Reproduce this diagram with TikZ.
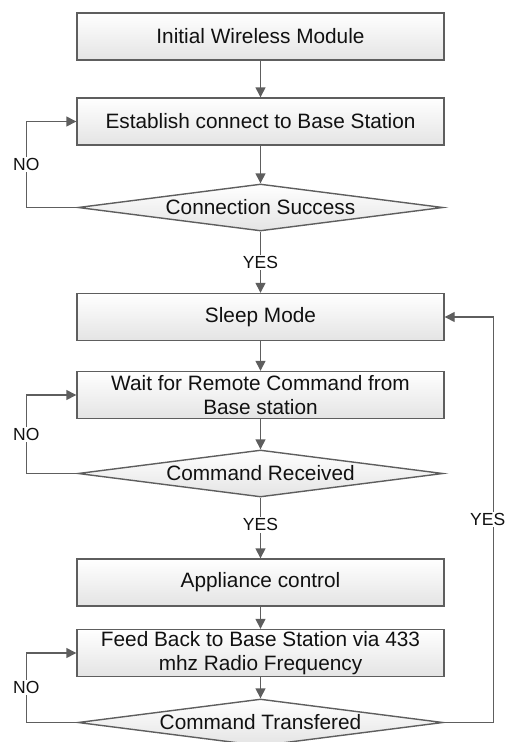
\documentclass[tikz,border=0pt]{standalone}
\usepackage{fontspec}
\setmainfont{Liberation Sans}
\usetikzlibrary{shapes.geometric,arrows.meta}
\definecolor{linec}{HTML}{5E5E5E}
\definecolor{boxbot}{HTML}{E4E4E4}
\definecolor{txt}{HTML}{111111}
\tikzset{
  box/.style={draw=linec, line width=1.4pt, top color=white, bottom color=boxbot,
    minimum width=367pt, minimum height=47pt, inner sep=0pt, align=center,
    text=txt, font=\fontsize{20.8}{24}\selectfont},
  dec/.style={diamond, draw=linec, line width=1.4pt, top color=white, bottom color=boxbot,
    minimum width=365pt, minimum height=47pt, aspect=7.77, inner sep=0pt,
    text=txt, font=\fontsize{20.8}{24}\selectfont},
  arr/.style={draw=linec, line width=1.4pt, -{Triangle[length=10pt,width=10pt]}},
  lab/.style={fill=white, inner sep=1.5pt, text=txt, font=\fontsize{17.5}{20}\selectfont}
}
\begin{document}
\begin{tikzpicture}[x=1pt,y=-1pt]
\useasboundingbox (0,0) rectangle (513,742);
\node[box] (b1) at (260.5,36.5) {Initial Wireless Module};
\node[box] (b2) at (260.5,121.5) {Establish connect to Base Station};
\node[dec] (d1) at (260.5,207.5) {Connection Success};
\node[box] (b3) at (260.5,317) {Sleep Mode};
\node[box] (b4) at (260.5,395) {Wait for Remote Command from\\Base station};
\node[dec] (d2) at (260.5,473.5) {Command Received};
\node[box] (b5) at (260.5,582.5) {Appliance control};
\node[box] (b6) at (260.5,653) {Feed Back to Base Station via 433\\mhz Radio Frequency};
\node[dec] (d3) at (260.5,722.5) {Command Transfered};

\draw[arr] (b1) -- (b2);
\draw[arr] (b2) -- (d1);
\draw[arr] (d1) -- node[lab]{YES} (b3);
\draw[arr] (d1.west) -- ++(-51,0) |- node[lab,pos=0.25]{NO} (b2.west);
\draw[arr] (b3) -- (b4);
\draw[arr] (b4) -- (d2);
\draw[arr] (d2) -- node[lab,pos=0.45]{YES} (b5);
\draw[arr] (d2.west) -- ++(-51,0) |- node[lab,pos=0.25]{NO} (b4.west);
\draw[arr] (b5) -- (b6);
\draw[arr] (b6) -- (d3);
\draw[arr] (d3.west) -- ++(-51,0) |- node[lab,pos=0.25]{NO} (b6.west);
\draw[arr] (d3.east) -- ++(50,0) |- node[lab,pos=0.25,xshift=-6pt]{YES} (b3.east);
\end{tikzpicture}
\end{document}
